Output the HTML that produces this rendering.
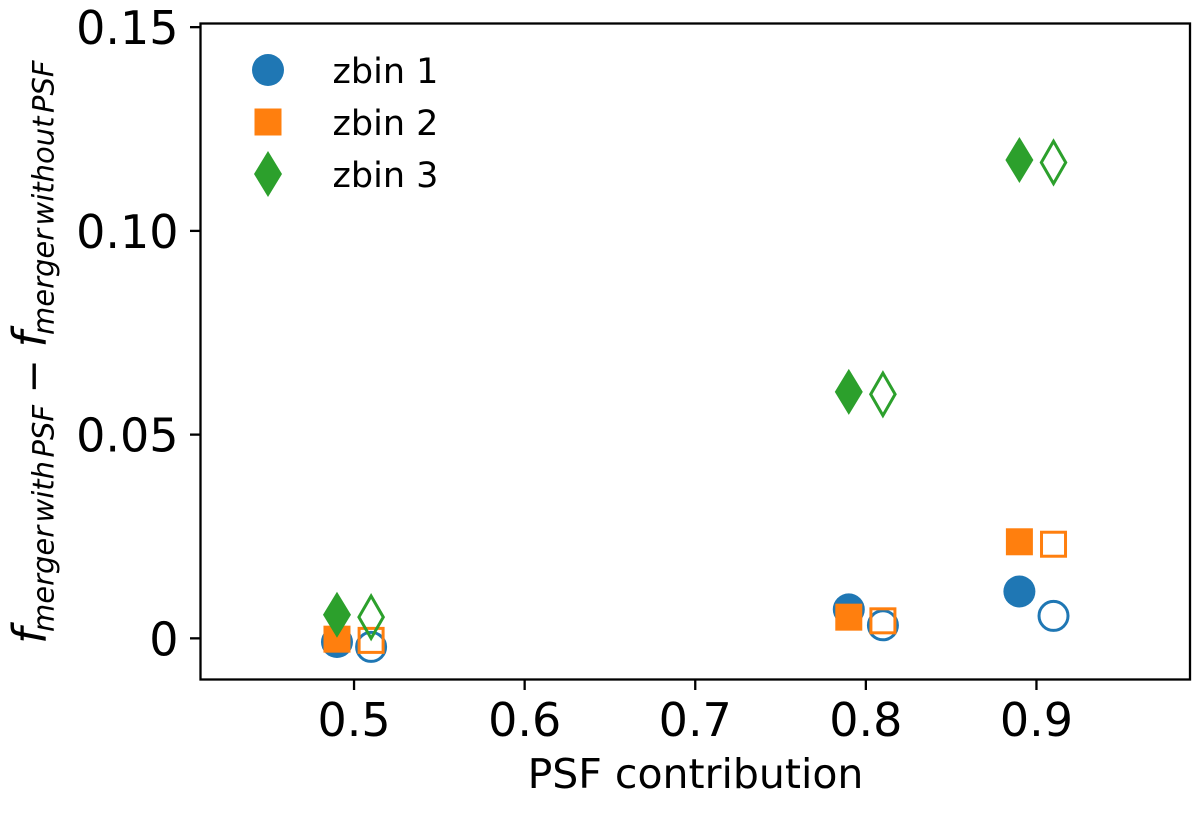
<!DOCTYPE html>
<html lang="en">
<head>
<meta charset="utf-8">
<title>PSF contribution chart</title>
<style>
html,body{margin:0;padding:0;background:#fff;width:1200px;height:819px;overflow:hidden}
svg{display:block}
text{font-family:"DejaVu Sans","Liberation Sans",sans-serif;fill:#000}
.ob{font-style:oblique}
</style>
</head>
<body>
<svg id="chart" xmlns="http://www.w3.org/2000/svg" width="1200" height="819" viewBox="0 0 1200 819"></svg>
<script>
const xTicks = [0.5, 0.6, 0.7, 0.8, 0.9];
const xTickLabels = ["0.5", "0.6", "0.7", "0.8", "0.9"];
const yTicks = [0, 0.05, 0.10, 0.15];
const yTickLabels = ["0", "0.05", "0.10", "0.15"];
const filledX = [0.49, 0.79, 0.89];
const openX = [0.51, 0.81, 0.91];
const seriesNames = ["zbin 1", "zbin 2", "zbin 3"];
const zbin1Filled = [-0.0009, 0.0071, 0.0115];
const zbin1Open = [-0.0021, 0.0032, 0.0055];
const zbin2Filled = [-0.0002, 0.0052, 0.0237];
const zbin2Open = [-0.0005, 0.0043, 0.0231];
const zbin3Filled = [0.0058, 0.0605, 0.1174];
const zbin3Open = [0.0052, 0.0599, 0.1168];

const NS = "http://www.w3.org/2000/svg";
const svg = document.getElementById("chart");
const plot = {left: 200.5, right: 1190, top: 23.5, bottom: 679.5};
const xDomain = {min: 0.41, max: 0.99};
const yDomain = {min: -0.0101, max: 0.1509};
const colors = ["#1f77b4", "#ff7f0e", "#2ca02c"];
const shapes = ["circle", "square", "diamond"];

function xScale(v) {
  return plot.left + (v - xDomain.min) / (xDomain.max - xDomain.min) * (plot.right - plot.left);
}
function yScale(v) {
  return plot.bottom - (v - yDomain.min) / (yDomain.max - yDomain.min) * (plot.bottom - plot.top);
}
function make(tag, attrs, parent) {
  const el = document.createElementNS(NS, tag);
  for (const k in attrs) el.setAttribute(k, attrs[k]);
  (parent || svg).appendChild(el);
  return el;
}
function marker(shape, cx, cy, color, filled) {
  let el;
  const sw = filled ? 0 : 3;
  const fill = filled ? color : "none";
  const inset = sw / 2;
  if (shape === "circle") {
    el = make("circle", {cx: cx, cy: cy, r: 16 - inset, fill: fill, stroke: color, "stroke-width": sw});
  } else if (shape === "square") {
    const half = 13.5 - inset;
    el = make("rect", {x: cx - half, y: cy - half, width: half * 2, height: half * 2, fill: fill, stroke: color, "stroke-width": sw});
  } else {
    const w = 14 - inset * 1.2;
    const h = 23 - inset * 1.2;
    el = make("polygon", {points: [cx, cy - h, cx + w, cy, cx, cy + h, cx - w, cy].join(" "), fill: fill, stroke: color, "stroke-width": sw});
  }
  return el;
}

// axes frame
const frame = make("rect", {x: plot.left, y: plot.top, width: plot.right - plot.left, height: plot.bottom - plot.top, fill: "#fff", stroke: "#000", "stroke-width": 2.3});



// x axis
xTicks.forEach(function (t, i) {
  const x = xScale(t);
  const tick = make("line", {x1: x, x2: x, y1: plot.bottom, y2: plot.bottom + 10.5, stroke: "#000", "stroke-width": 2.3});
  
  
  const label = make("text", {x: x, y: 736, "text-anchor": "middle", "font-size": 46});
  label.textContent = xTickLabels[i];
  
  
});

// y axis
yTicks.forEach(function (t, i) {
  const y = yScale(t);
  const tick = make("line", {x1: plot.left, x2: plot.left - 10.5, y1: y, y2: y, stroke: "#000", "stroke-width": 2.3});
  
  
  const label = make("text", {x: 178.5, y: y + 17, "text-anchor": "end", "font-size": 46});
  label.textContent = yTickLabels[i];
  
  
});

// series marks, bottom to top
const filledSeries = [zbin1Filled, zbin2Filled, zbin3Filled];
const openSeries = [zbin1Open, zbin2Open, zbin3Open];
seriesNames.forEach(function (name, s) {
  filledSeries[s].forEach(function (v, i) {
    const m = marker(shapes[s], xScale(filledX[i]), yScale(v), colors[s], true);
    
    
  });
  openSeries[s].forEach(function (v, i) {
    const m = marker(shapes[s], xScale(openX[i]), yScale(v), colors[s], false);
    
    
  });
});

// legend
const legendRows = [70, 122, 174];
seriesNames.forEach(function (name, s) {
  const m = marker(shapes[s], 268, legendRows[s], colors[s], true);
  
  
  const t = make("text", {x: 332.5, y: legendRows[s] + 13, "font-size": 35});
  t.textContent = name;
  
  
});

// x axis title
const xTitle = make("text", {x: 695.5, y: 788, "text-anchor": "middle", "font-size": 41});
xTitle.textContent = "PSF contribution";



// y axis title, placed piece by piece like mathtext
const yTitle = make("g", {});


function rotated(str, y, base, size, italic) {
  const t = make("text", {transform: "translate(" + base + " " + y + ") rotate(-90)", "font-size": size}, yTitle);
  if (italic) t.setAttribute("class", "ob");
  t.textContent = str;
}
rotated("f", 644, 46, 46, true);
rotated("merger", 632, 53.5, 29, true);
rotated("with", 522.5, 53.5, 29, true);
rotated("PSF", 457.5, 53.5, 29, true);
rotated("\u2212", 393.5, 47, 41, false);
rotated("f", 347.5, 46, 46, true);
rotated("merger", 335, 53.5, 29, true);
rotated("without", 225.5, 53.5, 29, true);
rotated("PSF", 113, 53.5, 29, true);
</script>
</body>
</html>
